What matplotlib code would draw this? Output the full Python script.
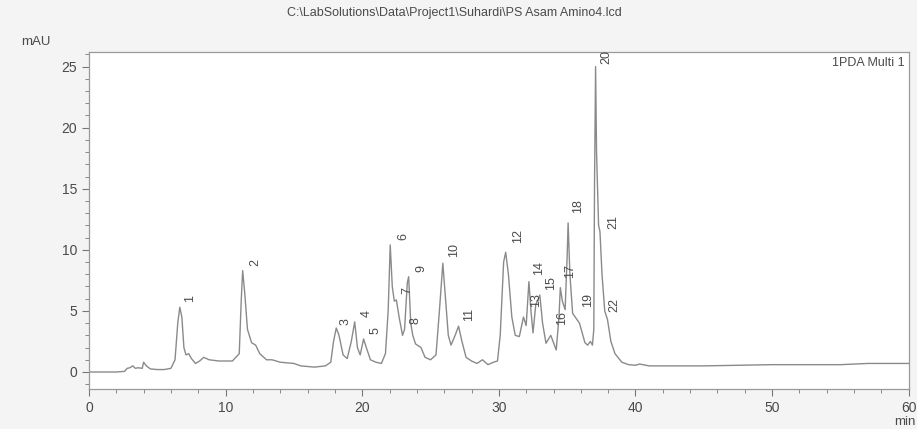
import numpy as np
import matplotlib.pyplot as plt
from matplotlib.ticker import MultipleLocator

plt.rcParams['font.family'] = ['Liberation Sans', 'DejaVu Sans']

# trace (min, mAU)
time = [0.0, 2.0, 2.6, 2.8, 3.0, 3.2, 3.4, 3.6, 3.9, 4.0, 4.2, 4.5, 5.0, 5.5, 6.0,
        6.3, 6.5, 6.65, 6.8, 6.95, 7.1, 7.3, 7.5, 7.8, 8.1, 8.4, 8.8, 9.5, 10.5,
        11.0, 11.15, 11.25, 11.4, 11.6, 11.9, 12.2, 12.5, 13.0, 13.4, 14.0, 15.0,
        15.5, 16.5, 17.3, 17.7, 17.9, 18.1, 18.3, 18.6, 18.9, 19.2, 19.45, 19.65,
        19.85, 20.1, 20.3, 20.6, 21.0, 21.4, 21.7, 21.9, 22.05, 22.2, 22.35, 22.5,
        22.7, 22.95, 23.1, 23.3, 23.4, 23.55, 23.7, 23.9, 24.3, 24.6, 25.0, 25.4,
        25.65, 25.9, 26.1, 26.3, 26.5, 26.8, 27.05, 27.3, 27.6, 28.0, 28.4, 28.8,
        29.2, 29.6, 29.9, 30.1, 30.35, 30.5, 30.7, 30.95, 31.2, 31.5, 31.8, 32.0,
        32.2, 32.35, 32.5, 32.7, 33.0, 33.2, 33.45, 33.8, 34.2, 34.4, 34.5, 34.65,
        34.85, 35.0, 35.07, 35.2, 35.4, 35.9, 36.3, 36.5, 36.7, 36.85, 36.95, 37.0,
        37.08, 37.15, 37.3, 37.4, 37.55, 37.75, 37.95, 38.2, 38.5, 39.0, 39.5, 40.0,
        40.3, 41.0, 45.0, 50.0, 55.0, 57.0, 60.0]
signal = [0.0, 0.0, 0.05, 0.3, 0.35, 0.5, 0.3, 0.35, 0.3, 0.8, 0.5, 0.25, 0.2, 0.2, 0.3,
          1.0, 4.0, 5.3, 4.5, 2.0, 1.4, 1.5, 1.1, 0.7, 0.9, 1.2, 1.0, 0.9, 0.9,
          1.5, 6.0, 8.3, 6.5, 3.5, 2.4, 2.2, 1.5, 1.0, 1.0, 0.8, 0.7,
          0.5, 0.4, 0.5, 0.8, 2.5, 3.6, 3.0, 1.4, 1.1, 2.5, 4.1, 2.0,
          1.4, 2.7, 2.0, 1.0, 0.8, 0.7, 1.5, 5.0, 10.4, 7.0, 5.8, 5.9,
          4.5, 3.0, 3.5, 7.3, 7.8, 4.0, 3.0, 2.3, 2.0, 1.2, 1.0, 1.4,
          5.0, 8.9, 6.0, 3.0, 2.2, 3.0, 3.75, 2.5, 1.2, 0.9, 0.7, 1.0,
          0.6, 0.8, 0.9, 3.0, 9.0, 9.8, 8.0, 4.5, 3.0, 2.9, 4.5, 3.8,
          7.4, 5.0, 3.2, 5.5, 6.3, 4.0, 2.35, 3.0, 1.8, 4.5, 6.9, 5.8,
          5.1, 9.5, 12.2, 8.0, 4.8, 4.0, 2.4, 2.2, 2.5, 2.2, 3.5, 15.0,
          25.0, 18.0, 12.0, 11.5, 8.0, 5.0, 4.3, 2.5, 1.5, 0.8, 0.6, 0.55,
          0.65, 0.5, 0.5, 0.6, 0.6, 0.7, 0.7]

# peak numbers and where they are printed
peak_ids = [str(i) for i in range(1, 23)]
label_x = [7.38, 12.2, 18.8, 20.3, 21.0, 23.0, 23.3, 23.9, 24.3, 26.75, 27.8,
           31.4, 32.7, 32.97, 33.85, 34.6, 35.2, 35.8, 36.55, 37.9, 38.4, 38.45]
label_y = [6.0, 9.0, 4.1, 4.8, 3.4, 11.1, 6.7, 4.2, 8.5, 10.0, 4.7,
           11.1, 5.9, 8.5, 7.3, 4.4, 8.3, 13.6, 5.9, 25.8, 12.3, 5.5]

grey = '#8a8a8a'
txt = '#4a4a4a'

fig = plt.figure(figsize=(9.17, 4.29), dpi=100, facecolor='#f4f4f4')
ax = fig.add_axes([0.097, 0.093, 0.894, 0.786])
ax.set_facecolor('white')

ax.plot(time, signal, color=grey, lw=1.0)

for lab, lx, ly in zip(peak_ids, label_x, label_y):
    ax.text(lx, ly, lab, rotation=90, ha='center', va='center', fontsize=9, color=txt)

ax.set_xlim(0, 60)
ax.set_ylim(-1.4, 26.2)
ax.xaxis.set_major_locator(MultipleLocator(10))
ax.xaxis.set_minor_locator(MultipleLocator(2))
ax.yaxis.set_major_locator(MultipleLocator(5))
ax.yaxis.set_minor_locator(MultipleLocator(1))
ax.tick_params(which='both', direction='out', colors='#777777', labelcolor=txt, labelsize=10)
ax.tick_params(which='major', length=5)
ax.tick_params(which='minor', length=3)
for s in ax.spines.values():
    s.set_color('#999999')
    s.set_linewidth(0.9)

ax.text(0.995, 0.985, '1PDA Multi 1', transform=ax.transAxes, ha='right', va='top',
        fontsize=9, color=txt)
fig.text(0.496, 0.97, r'C:\LabSolutions\Data\Project1\Suhardi\PS Asam Amino4.lcd',
         ha='center', va='center', fontsize=9, color=txt)
fig.text(0.039, 0.902, 'mAU', ha='center', va='center', fontsize=9.5, color=txt)
fig.text(0.987, 0.016, 'min', ha='center', va='center', fontsize=9.5, color=txt)

fig.savefig('out.png', dpi=100, facecolor=fig.get_facecolor())
